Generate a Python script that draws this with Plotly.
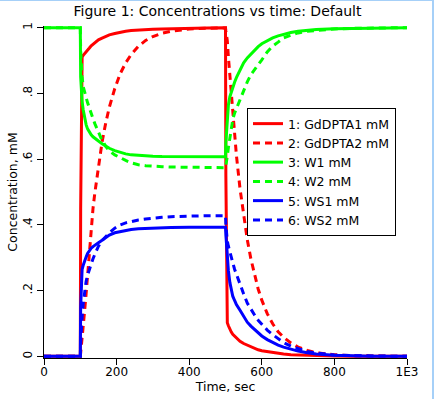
import plotly.graph_objects as go

# Time grid (sec)
time_s = [0, 99, 100, 101, 103, 105, 108, 112, 116, 120, 125, 130, 135, 140, 150, 160, 170, 180, 195,
          210, 225, 240, 260, 280, 300, 325, 350, 400, 450, 499, 500, 501, 503, 505, 508, 512, 516,
          520, 525, 530, 540, 550, 560, 570, 580, 590, 600, 615, 630, 645, 660, 680, 700, 725, 750,
          800, 850, 900, 1000]

gddpta1 = [0, 0, 0, 0.45, 0.90, 0.91, 0.916, 0.922, 0.928, 0.933, 0.938, 0.945, 0.95, 0.956, 0.963,
           0.968, 0.974, 0.978, 0.982, 0.986, 0.989, 0.991, 0.993, 0.994, 0.995, 0.996, 0.997, 0.998,
           0.999, 1.0, 1.0, 0.55, 0.115, 0.102, 0.093, 0.082, 0.074, 0.067, 0.062, 0.055, 0.046, 0.039,
           0.034, 0.029, 0.024, 0.02, 0.017, 0.014, 0.011, 0.009, 0.007, 0.005, 0.004, 0.003, 0.002,
           0.001, 0, 0, 0]

gddpta2 = [0, 0, 0, 0.01, 0.03, 0.055, 0.09, 0.14, 0.19, 0.25, 0.32, 0.39, 0.45, 0.497, 0.58, 0.652,
           0.71, 0.758, 0.815, 0.86, 0.893, 0.918, 0.943, 0.961, 0.973, 0.983, 0.989, 0.996, 0.998,
           0.999, 0.999, 0.99, 0.975, 0.96, 0.91, 0.85, 0.79, 0.734, 0.67, 0.612, 0.51, 0.425, 0.355,
           0.296, 0.246, 0.205, 0.171, 0.13, 0.099, 0.075, 0.058, 0.041, 0.028, 0.018, 0.011, 0.005,
           0.002, 0.001, 0]

w1 = [1, 1, 1, 0.85, 0.80, 0.775, 0.75, 0.72, 0.705, 0.692, 0.682, 0.674, 0.668, 0.663, 0.655, 0.647,
      0.64, 0.633, 0.626, 0.62, 0.616, 0.613, 0.611, 0.61, 0.609, 0.608, 0.608, 0.607, 0.607, 0.607,
      0.607, 0.65, 0.69, 0.73, 0.765, 0.79, 0.805, 0.82, 0.834, 0.848, 0.872, 0.893, 0.908, 0.92,
      0.932, 0.942, 0.951, 0.961, 0.969, 0.975, 0.98, 0.985, 0.989, 0.992, 0.994, 0.997, 0.998,
      0.999, 1.0]

w2 = [1, 1, 1, 0.93, 0.88, 0.85, 0.82, 0.80, 0.788, 0.772, 0.754, 0.738, 0.723, 0.708, 0.68, 0.657,
      0.639, 0.625, 0.613, 0.604, 0.596, 0.589, 0.583, 0.58, 0.578, 0.577, 0.576, 0.575, 0.574,
      0.574, 0.574, 0.58, 0.59, 0.61, 0.635, 0.668, 0.70, 0.72, 0.74, 0.754, 0.78, 0.805, 0.835,
      0.857, 0.871, 0.886, 0.902, 0.926, 0.944, 0.956, 0.969, 0.977, 0.984, 0.989, 0.992, 0.996,
      0.998, 0.999, 1.0]

ws1 = [0, 0, 0, 0.15, 0.25, 0.265, 0.277, 0.292, 0.302, 0.313, 0.322, 0.329, 0.334, 0.339, 0.346,
       0.353, 0.362, 0.369, 0.376, 0.38, 0.384, 0.386, 0.388, 0.389, 0.391, 0.392, 0.392, 0.393,
       0.393, 0.393, 0.393, 0.37, 0.33, 0.29, 0.26, 0.225, 0.2, 0.183, 0.17, 0.158, 0.14, 0.12,
       0.104, 0.092, 0.081, 0.071, 0.062, 0.051, 0.042, 0.034, 0.028, 0.021, 0.016, 0.011, 0.007,
       0.003, 0.001, 0, 0]

ws2 = [0, 0, 0, 0.04, 0.09, 0.12, 0.16, 0.205, 0.228, 0.247, 0.265, 0.282, 0.297, 0.31, 0.335,
       0.352, 0.365, 0.376, 0.39, 0.4, 0.406, 0.41, 0.415, 0.418, 0.421, 0.423, 0.425, 0.427, 0.428,
       0.428, 0.428, 0.4, 0.37, 0.35, 0.335, 0.315, 0.302, 0.285, 0.265, 0.25, 0.215, 0.19, 0.162,
       0.143, 0.126, 0.11, 0.097, 0.08, 0.066, 0.055, 0.042, 0.031, 0.023, 0.015, 0.01, 0.004,
       0.002, 0.001, 0]

series_names = ["1: GdDPTA1 mM", "2: GdDPTA2 mM", "3: W1 mM", "4: W2 mM", "5: WS1 mM", "6: WS2 mM"]
series_values = [gddpta1, gddpta2, w1, w2, ws1, ws2]
series_colors = ["#ff0000", "#ff0000", "#00ff00", "#00ff00", "#0000ff", "#0000ff"]
series_dash = ["solid", "7px,5px", "solid", "7px,5px", "solid", "7px,5px"]

x_tickvals = [0, 200, 400, 600, 800, 1000]
x_ticktext = ["0", "200", "400", "600", "800", "1E3"]
y_tickvals = [0, 0.2, 0.4, 0.6, 0.8, 1.0]
y_ticktext = ["0", ".2", ".4", ".6", ".8", "1"]

FONT = "DejaVu Sans"

fig = go.Figure()
for name, vals, col, dash in zip(series_names, series_values, series_colors, series_dash):
    fig.add_trace(go.Scatter(x=time_s, y=vals, mode="lines", name=name,
                             line=dict(color=col, width=3, dash=dash)))

fig.update_layout(
    width=435, height=399,
    margin=dict(l=44, r=28, t=26, b=41, pad=0, autoexpand=False),
    paper_bgcolor="white", plot_bgcolor="white",
    font=dict(family=FONT, size=12, color="black"),
    title=dict(text="Figure 1: Concentrations vs time: Default", x=0.5, xref="container",
               xanchor="center", y=1 - 11 / 399, yref="container", yanchor="middle",
               font=dict(family=FONT, size=14, color="black"), automargin=False),
    showlegend=True,
    legend=dict(x=(247 - 44) / 363, y=(358 - 108) / 332, xanchor="left", yanchor="top",
                bgcolor="white", bordercolor="black", borderwidth=1,
                font=dict(family=FONT, size=12.5, color="black"),
                tracegroupgap=0, itemwidth=30),
    xaxis=dict(range=[0, 1000], tickvals=x_tickvals, ticktext=x_ticktext, automargin=False,
               showgrid=False, zeroline=False, showline=True, linecolor="black", linewidth=1,
               ticks="outside", ticklen=6, tickcolor="black", tickwidth=1,
               ticklabelstandoff=-3,
               tickfont=dict(family=FONT, size=12),
               title=dict(text="Time, sec", font=dict(family=FONT, size=12.5), standoff=3)),
    yaxis=dict(range=[-0.005, 1.005], tickvals=y_tickvals, ticktext=y_ticktext, automargin=False,
               showgrid=False, zeroline=False, showline=True, linecolor="black", linewidth=1,
               ticks="outside", ticklen=6, tickcolor="black", tickwidth=1, tickangle=-90,
               tickfont=dict(family=FONT, size=12),
               title=dict(text="Concentration, mM", font=dict(family=FONT, size=12.5), standoff=0)),
    shapes=[
        dict(type="line", xref="paper", yref="paper", x0=-44 / 363, x1=(434 - 44) / 363,
             y0=(358 - 0.5) / 332, y1=(358 - 0.5) / 332, line=dict(color="#a6d0f8", width=1)),
        dict(type="line", xref="paper", yref="paper", x0=(433 - 44) / 363, x1=(433 - 44) / 363,
             y0=(358 - 0) / 332, y1=(358 - 399) / 332, line=dict(color="#a6d0f8", width=2)),
    ],
)

fig.write_html("out.html", config={"displayModeBar": False},
               post_script="document.body.style.margin='0px';")
